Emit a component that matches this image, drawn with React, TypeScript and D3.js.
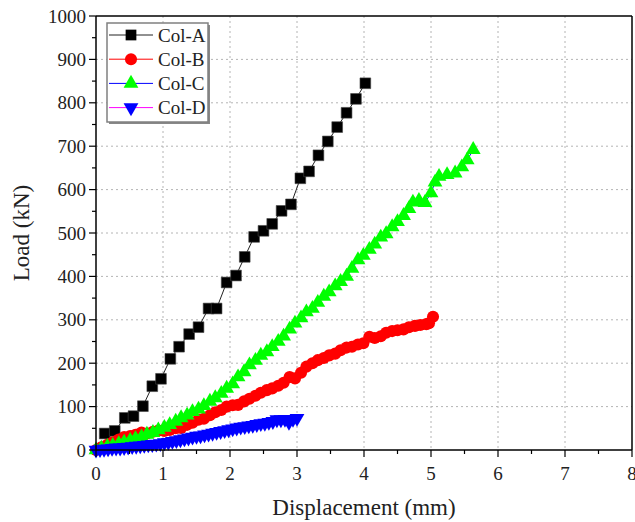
import React from 'react'
import * as d3 from 'd3'

// Col-A (black squares)
const colAx = [0.13, 0.28, 0.43, 0.56, 0.70, 0.84, 0.97, 1.11, 1.24, 1.39, 1.53, 1.68, 1.80, 1.95, 2.09, 2.22, 2.36, 2.50, 2.63, 2.77, 2.91, 3.05, 3.18, 3.32, 3.46, 3.60, 3.74, 3.88, 4.02]
const colAy = [38, 44, 74, 78, 101, 147, 164, 210, 238, 267, 283, 326, 326, 386, 402, 445, 491, 505, 521, 551, 566, 626, 642, 679, 711, 744, 777, 809, 845]

// Col-B (red circles)
const colBx = [0.00, 0.08, 0.17, 0.25, 0.34, 0.42, 0.51, 0.59, 0.68, 0.76, 0.85, 0.93, 1.02, 1.10, 1.19, 1.27, 1.36, 1.44, 1.53, 1.61, 1.70, 1.78, 1.87, 1.95, 2.04, 2.12, 2.21, 2.29, 2.38, 2.46, 2.55, 2.63, 2.72, 2.80, 2.89, 2.97, 3.06, 3.14, 3.23, 3.31, 3.40, 3.48, 3.57, 3.65, 3.74, 3.82, 3.91, 3.99, 4.08, 4.16, 4.25, 4.33, 4.42, 4.50, 4.59, 4.67, 4.76, 4.84, 4.93, 4.97, 5.03]
const colBy = [0, 6, 12, 18, 24, 30, 32, 35, 40, 38, 42, 45, 44, 46, 50, 51, 58, 63, 70, 72, 80, 87, 92, 100, 103, 104, 112, 118, 125, 132, 138, 142, 148, 155, 168, 165, 178, 192, 200, 207, 212, 218, 222, 230, 236, 238, 243, 246, 261, 258, 262, 270, 274, 276, 278, 283, 286, 288, 290, 292, 307]

// Col-C (green triangles)
const colCx = [0.00, 0.08, 0.17, 0.25, 0.34, 0.42, 0.51, 0.59, 0.68, 0.76, 0.85, 0.93, 1.02, 1.10, 1.19, 1.27, 1.36, 1.44, 1.53, 1.61, 1.70, 1.78, 1.87, 1.95, 2.04, 2.12, 2.21, 2.29, 2.38, 2.46, 2.55, 2.63, 2.72, 2.80, 2.89, 2.97, 3.06, 3.14, 3.23, 3.31, 3.40, 3.48, 3.57, 3.65, 3.74, 3.82, 3.91, 3.99, 4.08, 4.16, 4.25, 4.33, 4.42, 4.50, 4.59, 4.67, 4.73, 4.82, 4.91, 5.00, 5.06, 5.12, 5.24, 5.36, 5.46, 5.54, 5.63]
const colCy = [0, 4, 8, 10, 14, 18, 22, 26, 30, 36, 40, 46, 52, 58, 66, 74, 80, 88, 94, 102, 112, 120, 130, 142, 152, 168, 180, 196, 206, 218, 226, 238, 250, 262, 278, 292, 304, 318, 326, 340, 354, 364, 378, 388, 400, 418, 438, 448, 462, 474, 490, 498, 514, 526, 540, 556, 571, 575, 570, 592, 617, 630, 634, 638, 652, 668, 692]

// Col-D (blue down triangles)
const colDx = [0.00, 0.06, 0.12, 0.18, 0.24, 0.30, 0.36, 0.42, 0.48, 0.54, 0.60, 0.66, 0.72, 0.78, 0.84, 0.90, 0.96, 1.02, 1.08, 1.14, 1.20, 1.26, 1.32, 1.38, 1.44, 1.50, 1.56, 1.62, 1.68, 1.74, 1.80, 1.86, 1.92, 1.98, 2.04, 2.10, 2.16, 2.22, 2.28, 2.34, 2.40, 2.46, 2.52, 2.58, 2.64, 2.70, 2.76, 2.82, 2.88, 2.94, 3.00]
const colDy = [0, 1, 2, 3, 4, 5, 5, 6, 7, 8, 9, 10, 11, 12, 13, 14, 15, 17, 18, 20, 22, 24, 26, 28, 30, 32, 33, 35, 37, 39, 41, 43, 45, 47, 49, 51, 53, 54, 56, 57, 59, 61, 62, 64, 66, 70, 70, 71, 64, 71, 73]

const xTicks = [0, 1, 2, 3, 4, 5, 6, 7, 8]
const yTicks = [0, 100, 200, 300, 400, 500, 600, 700, 800, 900, 1000]

const FONT = "'Liberation Serif', 'Times New Roman', 'DejaVu Serif', serif"

const series = [
  { name: 'Col-A', xs: colAx, ys: colAy, line: '#222', fill: '#000', shape: d3.symbolSquare, size: 115, rot: 0 },
  { name: 'Col-B', xs: colBx, ys: colBy, line: '#f00', fill: '#f00', shape: d3.symbolCircle, size: 115, rot: 0 },
  { name: 'Col-C', xs: colCx, ys: colCy, line: '#00f', fill: '#0f0', shape: d3.symbolTriangle, size: 95, rot: 0 },
  { name: 'Col-D', xs: colDx, ys: colDy, line: '#f0f', fill: '#00f', shape: d3.symbolTriangle, size: 95, rot: 180 },
]

const txt = { fontFamily: FONT, fill: '#222' }

export default function App() {
  const width = 635
  const height = 522
  const left = 96, right = 632, top = 16, bottom = 450

  const x = d3.scaleLinear().domain([0, 8]).range([left, right])
  const y = d3.scaleLinear().domain([0, 1000]).range([bottom, top])

  const xMinor = d3.range(0, 8.01, 0.5)
  const yMinor = d3.range(0, 1001, 50)

  return (
    <svg width={width} height={height} style={{ position: 'absolute', left: 0, top: 0, background: '#fff' }}>
      <rect width={width} height={height} fill="#fff" />
      {/* grid */}
      {xTicks.slice(1, -1).map(t => (
        <line key={'gx' + t} x1={x(t)} x2={x(t)} y1={top} y2={bottom} stroke="#b4b4b4" strokeWidth={1} strokeDasharray="2,3" />
      ))}
      {yTicks.slice(1, -1).map(t => (
        <line key={'gy' + t} x1={left} x2={right} y1={y(t)} y2={y(t)} stroke="#b4b4b4" strokeWidth={1} strokeDasharray="2,3" />
      ))}

      {/* series */}
      {series.map(s => {
        const pts = s.xs.map((v, i) => [v, s.ys[i]] as [number, number])
        const path = d3.line().x(d => x(d[0])).y(d => y(d[1]))(pts) || ''
        const sym = d3.symbol().type(s.shape).size(s.size)() || ''
        return (
          <g key={s.name}>
            <path d={path} fill="none" stroke={s.line} strokeWidth={1} />
            {pts.map((p, i) => (
              <path key={i} d={sym} transform={`translate(${x(p[0])},${y(p[1])}) rotate(${s.rot})`} fill={s.fill} stroke={s.name === 'Col-A' ? '#444' : 'none'} strokeWidth={0.6} />
            ))}
          </g>
        )
      })}

      {/* frame */}
      <line x1={left} x2={right} y1={top} y2={top} stroke="#000" strokeWidth={1.5} />
      <line x1={right} x2={right} y1={top} y2={bottom} stroke="#000" strokeWidth={1.5} />
      <line x1={left} x2={left} y1={top} y2={bottom} stroke="#000" strokeWidth={1.5} />
      <line x1={left} x2={right} y1={bottom} y2={bottom} stroke="#000" strokeWidth={1.5} />

      {/* x ticks */}
      {xMinor.map(t => (
        <line key={'xt' + t} x1={x(t)} x2={x(t)} y1={bottom} y2={bottom + (t % 1 === 0 ? 7 : 4)} stroke="#000" strokeWidth={1.2} />
      ))}
      {xTicks.map(t => (
        <text key={'xl' + t} x={x(t)} y={bottom + 30} fontSize={19} textAnchor="middle" style={txt}>{t}</text>
      ))}
      {/* y ticks */}
      {yMinor.map(t => (
        <line key={'yt' + t} x1={left} x2={left - (t % 100 === 0 ? 7 : 4)} y1={y(t)} y2={y(t)} stroke="#000" strokeWidth={1.2} />
      ))}
      {yTicks.map(t => (
        <text key={'yl' + t} x={left - 10} y={y(t)} dy="0.35em" fontSize={19} textAnchor="end" style={txt}>{t}</text>
      ))}

      {/* axis titles */}
      <text x={(left + right) / 2} y={515} fontSize={23} textAnchor="middle" style={txt}>Displacement (mm)</text>
      <text transform={`translate(29,${(top + bottom) / 2}) rotate(-90)`} fontSize={23} textAnchor="middle" style={txt}>Load (kN)</text>

      {/* legend */}
      <g>
        <rect x={109} y={25} width={101} height={99} fill="#888" />
        <rect x={107} y={23} width={101} height={99} fill="#fff" stroke="#808080" strokeWidth={1.5} />
        {series.map((s, i) => {
          const ly = 35 + i * 24.2
          const sym = d3.symbol().type(s.shape).size(s.size)() || ''
          return (
            <g key={'lg' + s.name}>
              <line x1={109} x2={153} y1={ly} y2={ly} stroke={s.line} strokeWidth={1} />
              <path d={sym} transform={`translate(131,${ly}) rotate(${s.rot})`} fill={s.fill} />
              <text x={158} y={ly} dy="0.35em" fontSize={19} style={txt}>{s.name}</text>
            </g>
          )
        })}
      </g>
    </svg>
  )
}
